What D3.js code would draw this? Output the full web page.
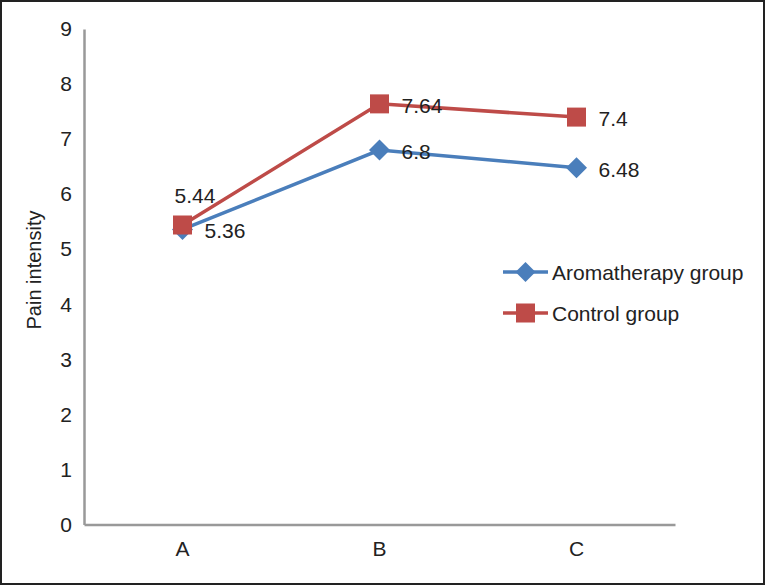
<!DOCTYPE html>
<html><head><meta charset="utf-8">
<script src="https://cdn.jsdelivr.net/npm/d3@7"></script>
<style>html,body{margin:0;padding:0;background:#fff;}svg{display:block;font-family:"Liberation Sans",Arial,sans-serif;}</style>
</head><body>
<script>
const categories = ["A", "B", "C"];
const aromatherapy = [5.36, 6.8, 6.48];
const control = [5.44, 7.64, 7.4];
const seriesNames = ["Aromatherapy group", "Control group"];
const yTicks = [0,1,2,3,4,5,6,7,8,9];

const W = 766, H = 586;
const FS = 21;
const svg = d3.select("body").append("svg").attr("width", W).attr("height", H);
svg.append("rect").attr("x",1).attr("y",1).attr("width",W-3).attr("height",H-3)
  .attr("fill","#fff").attr("stroke","#222").attr("stroke-width",2);

const m = {left:84, right:675, top:29, bottom:524.5};
const x = d3.scaleBand().domain(categories).range([m.left, m.right]);
const y = d3.scaleLinear().domain([0,9]).range([m.bottom, m.top]);

const yAx = svg.append("g").attr("transform",`translate(${m.left},0)`)
  .call(d3.axisLeft(y).tickValues(yTicks).tickSize(0).tickPadding(12).tickFormat(d3.format("d")));
const xAx = svg.append("g").attr("transform",`translate(0,${m.bottom})`)
  .call(d3.axisBottom(x).tickSize(0).tickPadding(17));
[yAx,xAx].forEach(g=>{
  g.select(".domain").attr("stroke","#999").attr("stroke-width",2.5);
  g.selectAll("text").attr("font-size",FS).attr("fill","#222").attr("font-family","Liberation Sans, Arial, sans-serif");
});

svg.append("text").attr("transform",`translate(41,270) rotate(-90)`)
  .attr("text-anchor","middle").attr("font-size",20).attr("fill","#222").text("Pain intensity");

const cx = d => x(d) + x.bandwidth()/2;
const line = d3.line().x((d,i)=>cx(categories[i])).y(d=>y(d));
const blue = "#4a7ebb", red = "#be4b48";

svg.append("path").datum(aromatherapy).attr("d",line).attr("fill","none").attr("stroke",blue).attr("stroke-width",3.5);
svg.append("path").datum(control).attr("d",line).attr("fill","none").attr("stroke",red).attr("stroke-width",3.5);

const diamond = (g, px, py, s) => g.append("path")
  .attr("d",`M${px},${py-s}L${px+s},${py}L${px},${py+s}L${px-s},${py}Z`).attr("fill",blue);
const square = (g, px, py, s) => g.append("rect")
  .attr("x",px-s).attr("y",py-s).attr("width",2*s).attr("height",2*s).attr("fill",red);

aromatherapy.forEach((v,i)=>diamond(svg, cx(categories[i]), y(v), 10.5));
control.forEach((v,i)=>square(svg, cx(categories[i]), y(v), 9.5));

const lab = (txt, px, py) => svg.append("text").attr("x",px).attr("y",py).attr("font-size",FS).attr("fill","#222").text(txt);
aromatherapy.forEach((v,i)=>{
  const px = cx(categories[i]), py = y(v);
  lab(String(v), px+22, py+9);
});
control.forEach((v,i)=>{
  const px = cx(categories[i]), py = y(v);
  if (i===0) lab(String(v), px-8, py-22);
  else lab(String(v), px+22, py+9);
});

const lg = svg.append("g");
seriesNames.forEach((n,i)=>{
  const ly = 272 + i*41;
  const col = i===0?blue:red;
  lg.append("line").attr("x1",503).attr("x2",548).attr("y1",ly).attr("y2",ly).attr("stroke",col).attr("stroke-width",3.5);
  if(i===0) diamond(lg, 525.5, ly, 10); else square(lg, 525.5, ly, 9.5);
  lg.append("text").attr("x",552).attr("y",ly+8).attr("font-size",FS).attr("fill","#222").text(n);
});
</script>
</body></html>
